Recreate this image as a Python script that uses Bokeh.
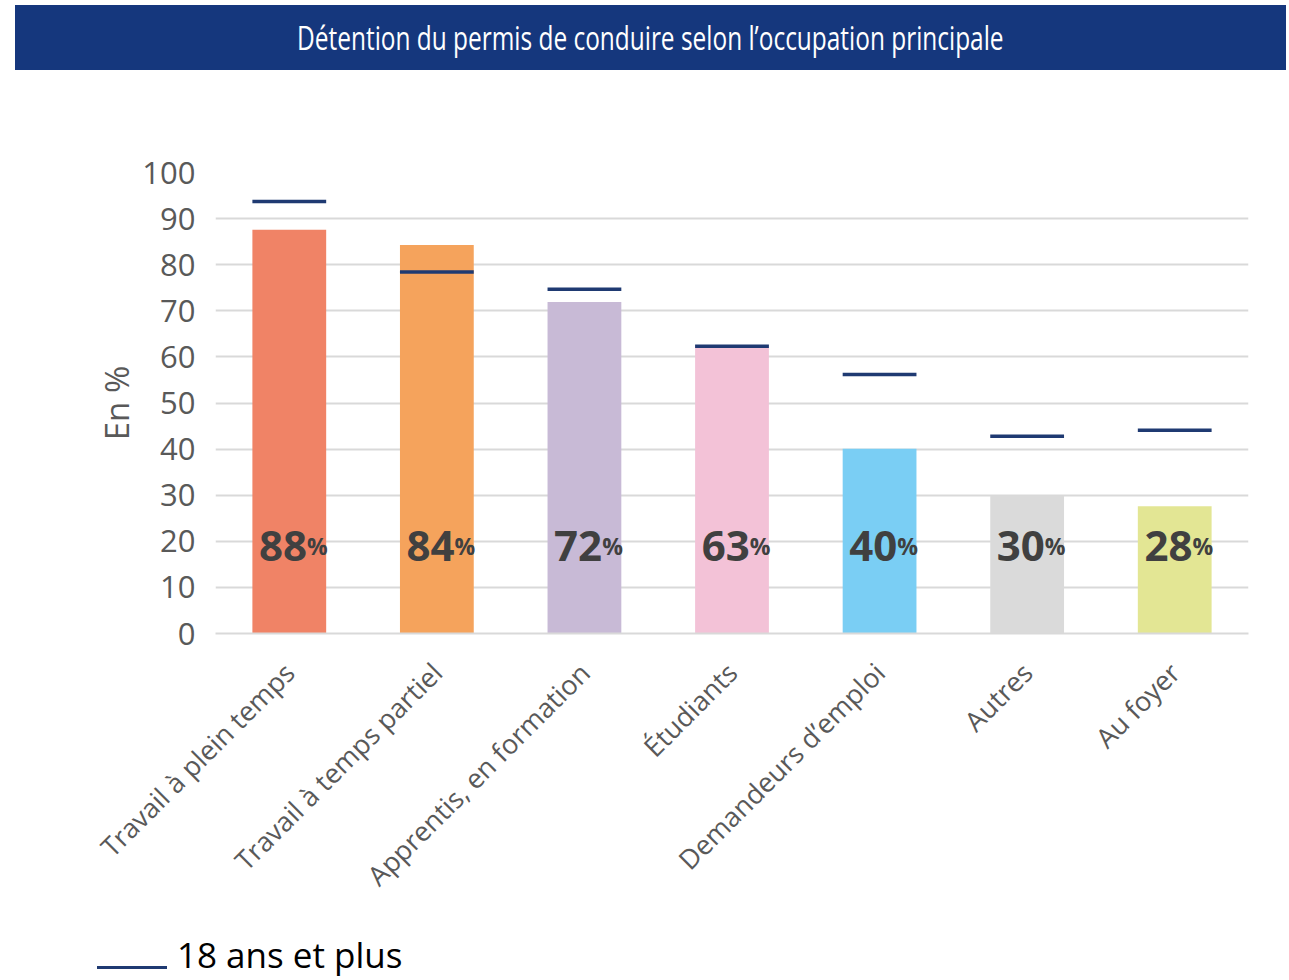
import math
from bokeh.plotting import figure
from bokeh.models import (ColumnDataSource, Range1d, FactorRange, Div, SingleIntervalTicker)
from bokeh.layouts import column
from bokeh.transform import dodge
from bokeh.core.properties import value
from bokeh.embed import file_html
from bokeh.resources import INLINE

# ---- data ----
categories = ["Travail à plein temps", "Travail à temps partiel", "Apprentis, en formation",
              "Étudiants", "Demandeurs d’emploi", "Autres", "Au foyer"]
values = [87.6, 84.3, 71.9, 62.6, 40.1, 29.9, 27.6]
labels = ["88", "84", "72", "63", "40", "30", "28"]
adults = [93.7, 78.4, 74.7, 62.3, 56.2, 42.8, 44.1]
colors = ["#F08366", "#F5A35C", "#C8BAD6", "#F3C2D7", "#7ACEF4", "#DADADA", "#E3E694"]
title_text = "Détention du permis de conduire selon l’occupation principale"
legend_text = "18 ans et plus"
y_label = "En %"
marker_color = "#1F3A72"

src = ColumnDataSource(dict(cat=categories, val=values, lab=labels, adult=adults,
                            color=colors, pct=["%"] * len(categories)))

banner = Div(
    text=f'<div style="width:1271px;height:65px;background:#15377d;color:#ffffff;'
         f'display:flex;align-items:center;justify-content:center;overflow:hidden;">'
         f'<span style="font-family:\'Open Sans\';font-size:33px;display:inline-block;'
         f'transform:scaleX(0.74);white-space:nowrap;">{title_text}</span></div>',
    width=1271, height=65, margin=(5, 0, 0, 15))

p = figure(x_range=FactorRange(factors=categories, range_padding=0),
           y_range=Range1d(0, 100),
           width=1280, height=860, output_backend="svg", toolbar_location=None,
           min_border_left=215, min_border_right=32, min_border_top=102,
           min_border_bottom=297)
p.outline_line_color = None
p.background_fill_color = "white"

p.vbar(x="cat", top="val", width=0.5, bottom=0, fill_color="color", line_color=None,
       source=src)

p.segment(x0=dodge("cat", -0.25, range=p.x_range), x1=dodge("cat", 0.25, range=p.x_range),
          y0="adult", y1="adult", line_color=marker_color, line_width=3.5, source=src)

p.text(x=dodge("cat", 0.12, range=p.x_range), y=19.0, text="lab", source=src,
       text_align="right", text_baseline="alphabetic", text_font=value("Open Sans"),
       text_font_style="bold", text_font_size="42px", text_color="#404040")
p.text(x=dodge("cat", 0.12, range=p.x_range), y=19.0, text="pct", source=src,
       text_align="left", text_baseline="alphabetic", text_font=value("Open Sans"),
       text_font_style="bold", text_font_size="23px", text_color="#404040")

# axes
p.yaxis.ticker = SingleIntervalTicker(interval=10)
p.yaxis.axis_line_color = None
p.yaxis.major_tick_line_color = None
p.yaxis.minor_tick_line_color = None
p.yaxis.major_label_text_font = "Open Sans"
p.yaxis.major_label_text_font_size = "31px"
p.yaxis.major_label_text_color = "#595959"
p.yaxis.major_label_standoff = 14
p.yaxis.axis_label = y_label
p.yaxis.axis_label_text_font = "Open Sans"
p.yaxis.axis_label_text_font_size = "33px"
p.yaxis.axis_label_text_font_style = "normal"
p.yaxis.axis_label_text_color = "#595959"
p.yaxis.axis_label_standoff = 0

p.xaxis.axis_line_color = "#D9D9D9"
p.xaxis.axis_line_width = 2
p.xaxis.major_tick_line_color = None
p.xaxis.minor_tick_line_color = None
p.xaxis.major_label_orientation = math.pi / 4
p.xaxis.major_label_text_font = "Open Sans"
p.xaxis.major_label_text_font_size = "27px"
p.xaxis.major_label_text_color = "#595959"
p.xaxis.major_label_standoff = 28

p.xgrid.grid_line_color = None
p.ygrid.grid_line_color = "#D9D9D9"
p.ygrid.grid_line_width = 2

# legend (key line + label)
legend_div = Div(
    text=f'<div style="position:relative;width:600px;height:50px;">'
         f'<div style="position:absolute;left:97px;top:36px;width:70px;height:3px;'
         f'background:{marker_color};"></div>'
         f'<div style="position:absolute;left:177px;top:3px;font-family:\'Open Sans\';'
         f'font-size:35px;line-height:44px;color:#000000;white-space:nowrap;">'
         f'{legend_text}</div></div>',
    width=1280, height=50, margin=(0, 0, 0, 0))

layout = column(banner, p, legend_div, spacing=0)
open("out.html", "w").write(file_html(layout, INLINE))
